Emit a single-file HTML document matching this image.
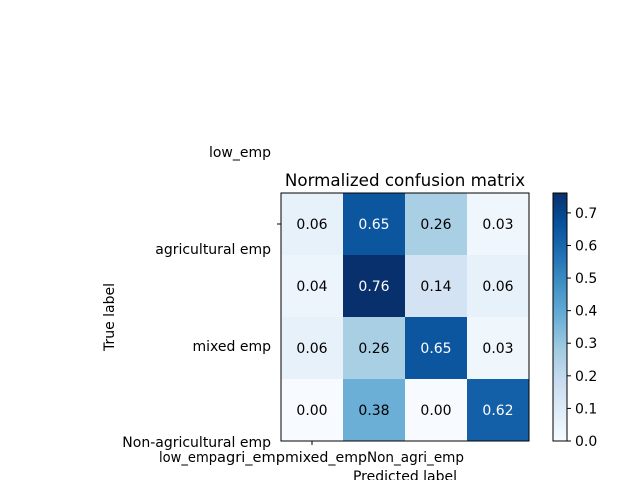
<!DOCTYPE html>
<html><head><meta charset="utf-8"><style>
body{margin:0;background:#fff}
svg text{font-family:"DejaVu Sans","Liberation Sans",sans-serif;font-size:14px;fill:#000}
</style></head><body>
<svg id="c" width="640" height="480" viewBox="0 0 640 480">
<text x="405" y="186" text-anchor="middle" style="font-size:16.7px">Normalized confusion matrix</text>
<g id="cells"></g>
<rect x="281" y="193" width="248" height="248" fill="none" stroke="#000" stroke-width="1"/>
<line x1="277" y1="224" x2="281" y2="224" stroke="#000"/>
<line x1="312" y1="441" x2="312" y2="445" stroke="#000"/>
<text x="271" y="157" text-anchor="end">low_emp</text>
<text x="271" y="254" text-anchor="end">agricultural emp</text>
<text x="271" y="351" text-anchor="end">mixed emp</text>
<text x="271" y="447" text-anchor="end">Non-agricultural emp</text>
<text x="159" y="462" textLength="58" lengthAdjust="spacingAndGlyphs">low_emp</text>
<text x="217" y="462" textLength="68" lengthAdjust="spacingAndGlyphs">agri_emp</text>
<text x="285" y="462" textLength="82" lengthAdjust="spacingAndGlyphs">mixed_emp</text>
<text x="367" y="462" textLength="97" lengthAdjust="spacingAndGlyphs">Non_agri_emp</text>
<text x="405" y="481" text-anchor="middle">Predicted label</text>
<text x="114" y="317" text-anchor="middle" transform="rotate(-90 114 317)">True label</text>
<defs><linearGradient id="g" x1="0" y1="1" x2="0" y2="0">
<stop offset="0" stop-color="#f7fbff"/><stop offset=".125" stop-color="#deebf7"/><stop offset=".25" stop-color="#c6dbef"/><stop offset=".375" stop-color="#9ecae1"/><stop offset=".5" stop-color="#6baed6"/><stop offset=".625" stop-color="#4292c6"/><stop offset=".75" stop-color="#2171b5"/><stop offset=".875" stop-color="#08519c"/><stop offset="1" stop-color="#08306b"/></linearGradient></defs>
<rect x="553" y="193" width="14" height="248" fill="url(#g)" stroke="#000"/>
<g id="cb"></g>
</svg>
<script>
const rows = ["low_emp","agricultural emp","mixed emp","Non-agricultural emp"];
const cols = ["low_emp","agri_emp","mixed_emp","Non_agri_emp"];
const values = [
 [0.06,0.65,0.26,0.03],
 [0.04,0.76,0.14,0.06],
 [0.06,0.26,0.65,0.03],
 [0.00,0.38,0.00,0.62]
];
const cbTicks = [0.0,0.1,0.2,0.3,0.4,0.5,0.6,0.7];
const vmax = 0.761;
const stops=["#f7fbff","#deebf7","#c6dbef","#9ecae1","#6baed6","#4292c6","#2171b5","#08519c","#08306b"];
function hex(h){return [1,3,5].map(i=>parseInt(h.substr(i,2),16));}
function cmap(v){let t=Math.max(0,Math.min(1,v/vmax))*8;let i=Math.min(7,Math.floor(t));let f=t-i;
 const a=hex(stops[i]),b=hex(stops[i+1]);return "rgb("+a.map((x,k)=>Math.round(x+(b[k]-x)*f)).join(",")+")";}
const X0=281,Y0=193,W=248,H=248;
const xs=j=>X0+j*W/cols.length, ys=i=>Y0+i*H/rows.length;
const cw=W/cols.length, ch=H/rows.length;
const NS="http://www.w3.org/2000/svg";
const g=document.getElementById("cells");
const mx=Math.max(...values.flat());
values.forEach((r,i)=>r.forEach((v,j)=>{
 const rc=document.createElementNS(NS,"rect");
 
 
 rc.setAttribute("x",xs(j));rc.setAttribute("y",ys(i));rc.setAttribute("width",cw+0.5);rc.setAttribute("height",ch+0.5);
 rc.setAttribute("fill",cmap(v));g.appendChild(rc);
 const t=document.createElementNS(NS,"text");
 
 
 t.setAttribute("x",xs(j)+cw/2);t.setAttribute("y",ys(i)+ch/2+5);t.setAttribute("text-anchor","middle");
 t.style.fill = v>mx/2+0.001?"#fff":"#000";
 t.textContent=v.toFixed(2);g.appendChild(t);
}));
const cb=document.getElementById("cb");
cbTicks.forEach(v=>{
 const y=441-v/vmax*248;
 const l=document.createElementNS(NS,"line");
 
 
 l.setAttribute("x1",567);l.setAttribute("x2",571);l.setAttribute("y1",y);l.setAttribute("y2",y);l.setAttribute("stroke","#000");cb.appendChild(l);
 const t=document.createElementNS(NS,"text");
 
 
 t.setAttribute("x",575);t.setAttribute("y",y+5);t.textContent=v.toFixed(1);cb.appendChild(t);
});
</script>
</body></html>
